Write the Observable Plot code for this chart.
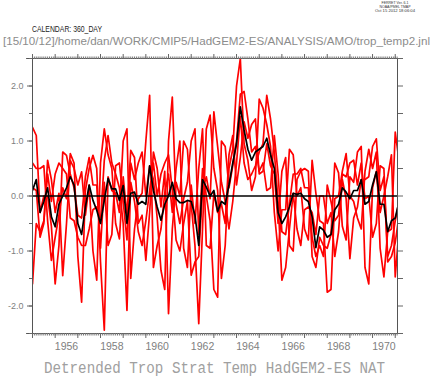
<!DOCTYPE html>
<html>
<head>
<meta charset="utf-8">
<script src="https://cdn.jsdelivr.net/npm/d3@7"></script>
<script src="https://cdn.jsdelivr.net/npm/@observablehq/plot@0.6"></script>
<style>
  html, body { margin: 0; padding: 0; background: #fff; }
  #chart { width: 435px; height: 377px; overflow: hidden; }
</style>
</head>
<body>
<div id="chart"></div>
<script>
// Time axis: values every 2 months starting Jan 1955 (360-day calendar)
const startYear = 1955.0;
const stepYears = 1 / 6;

// Four ensemble members (red) and their mean (black), detrended temperature anomaly
const memberA = [1.25, 1.1, -0.3, 0, 0, -0.55, -1.6, -0.9, 0.8, 0.74,
  0.4, 0.15, -0.35, -0.4, 0.35, 0.7, 0.2, 0.2, -0.95, 0.25,
  -0.9, -0.7, 0.55, 0.6, -0.1, -0.8, 0.6, 0.3, 0.6, 0.8,
  0, 0.55, 0.3, -0.4, -1.35, -1.7, 1.0, 1.8, -0.15, -0.5,
  -0.05, 0.25, 1.0, 1.22, -0.7, 0.5, 0, -0.45, -1.7, -1.84,
  1.0, 0.9, 0.15, 0.55, 1.0, 1.85, 1.9, 1.4, 0.8, 0.9,
  0.45, 0.6, 0.1, 0.15, 1.1, 0.4, -0.65, -0.7, -0.15, 0.4,
  0.4, 0.5, 0.15, 0.15, -0.75, -1.1, -0.9, -1.1, 0.2, -0.1,
  -0.45, -0.35, 0.4, 0.35, 0.6, 0.65, 0.2, 0.6, -0.05, 0,
  -0.75, -0.5, 0.55, 0.5, -1.1, -0.9, -0.45, -0.1];

const memberB = [0.6, 0.5, 0.5, 0.55, -0.45, -1.17, -0.75, -0.35, 0.15, -0.05,
  0.77, 0.6, -1.1, -1.93, 0.1, 0.5, 0.74, 0.5, -1.2, -2.44,
  0.35, 0.1, 0.05, -0.3, 1.0, 1.22, -1.5, -0.6, -0.05, 0.05,
  1.0, 1.83, -1.3, -0.9, -0.6, 0.05, 0.4, -0.3, 0.5, 1.0,
  -0.95, -1.3, 0.2, -0.5, 0.5, 1.22, -0.9, -0.95, 0.05, -0.3,
  -0.15, -0.5, 0.75, 1.1, 0.2, 0.7, 1.35, 1.05, 1.3, 1.4,
  0.4, 0.45, 0.95, 0.55, 0.4, -0.5, 0.45, 0.7, -0.9, -1.0,
  0.3, 0.45, 0.5, 0.45, -1.1, -1.3, -0.75, -0.9, -0.95, -0.7,
  0.6, 0.42, -0.55, -0.8, 0.35, 0.25, 0.8, 0.9, -1.3, -1.6,
  0.15, 0.45, -0.3, 0, 0.35, 0.75, -1.47, -0.6];

const memberC = [0.15, 0.1, -0.75, -0.5, 0.65, 0.3, -0.3, 0.05, -1.45, -0.5,
  0.65, 0.5, 0.2, 0.44, -0.35, 0.2, -1.0, -1.53, 0.6, 1.22,
  0.75, 0.5, -0.5, -0.78, 0.35, -0.35, 0.83, 0.7, -0.5, -0.35,
  -1.17, -0.3, 0.8, 0.5, -0.2, 0.45, -2.14, -0.6, 0.25, 0,
  1.0, 0.85, -0.15, -0.9, -2.32, -0.6, 1.22, 1.47, 0.5, 0.1,
  -1.5, -0.9, 0.5, 0.85, 2.0, 2.5, 0.95, 0.65, 0.1, 0.35,
  1.76, 1.6, 1.3, 0.9, -0.3, -1.0, -0.25, -0.25, 0.85, 0.75,
  0, 0.15, -0.6, -0.8, 0.65, 0.05, -0.45, -0.5, -1.75, -1.7,
  -0.05, 0, 0.45, 0.77, 0, -0.1, -0.4, -0.6, 0.45, 0.85,
  0.5, 0.8, -0.95, -1.47, -0.65, -0.6, 1.16, 0.64];

const memberD = [-1.6, -0.5, -0.65, -0.45, 0.4, -0.1, 0.4, 0.6, 0.5, 0.4,
  -0.4, -0.45, -0.75, -0.9, -0.9, -0.6, -0.25, -0.2, -0.45, 0.65,
  1.1, 0.6, 0.4, 0.15, -0.5, -2.08, 0.25, -0.1, -0.65, -0.9,
  -0.45, 0.1, 0.6, 0, 0.4, 0.6, 0.75, 0.1, -0.8, -1.0,
  -0.5, -0.1, -1.44, -1.2, -1.1, 0.1, 0.35, -0.05, 1.53, 0.9,
  0.25, -0.1, -0.6, -0.1, 0.6, 1.45, 0.6, 0.3, 0.4, 0.55,
  0.8, 0.95, 1.83, 1.4, 0.8, -0.1, -1.53, -1.3, -0.6, 0.05,
  -0.6, -0.9, -0.25, -0.2, -0.3, -0.7, 0, 0, -0.5, -0.3,
  -1.1, -0.65, 0.3, -0.05, -1.14, -0.4, -0.2, 0.3, 0.3, 0.35,
  0.9, 1.04, 0.1, 0.35, -1.2, -1.1, -0.85, -0.35];

const ensembleMean = [0.1, 0.3, -0.3, -0.1, 0.15, -0.38, -0.56, -0.15, 0, 0.15,
  0.35, 0.2, -0.5, -0.7, -0.2, 0.2, -0.08, -0.26, -0.5, -0.08,
  0.32, 0.13, 0.13, -0.08, 0.19, -0.5, 0.05, 0.07, -0.15, -0.1,
  -0.15, 0.55, 0.1, -0.2, -0.44, -0.15, 0, 0.25, -0.05, -0.12,
  -0.12, -0.08, -0.1, -0.35, -0.9, 0.3, 0.16, 0, 0.1, -0.28,
  -0.1, -0.15, 0.2, 0.6, 0.95, 1.62, 1.2, 0.85, 0.65, 0.8,
  0.85, 0.9, 1.05, 0.75, 0.5, -0.3, -0.5, -0.38, -0.2, 0.05,
  0.03, 0.05, -0.05, -0.1, -0.38, -0.94, -0.56, -0.62, -0.75, -0.7,
  -0.25, -0.15, 0.15, 0.07, -0.05, 0.1, 0.1, 0.3, -0.15, -0.1,
  0.2, 0.44, -0.15, -0.15, -0.65, -0.45, -0.4, -0.1];

// Axis ticks and labels
const yLabelTicks = [-2, -1, 0, 1, 2];
const yHalfTicks = [-2.5, -2, -1.5, -1, -0.5, 0, 0.5, 1, 1.5, 2, 2.5];
const xYearLabels = [1956, 1958, 1960, 1962, 1964, 1966, 1968, 1970];
const xYearBoundaries = [1955, 1956, 1957, 1958, 1959, 1960, 1961, 1962, 1963, 1964, 1965, 1966, 1967, 1968, 1969, 1970, 1971];
const xDomain = [1955.0, 1971.1];
const yDomain = [-2.5, 2.5];

const titleText = "Detrended Trop Strat Temp HadGEM2-ES NAT";
const calendarText = "CALENDAR: 360_DAY";
const pathText = "[15/10/12]/home/dan/WORK/CMIP5/HadGEM2-ES/ANALYSIS/AMO/trop_temp2.jnl";
const ferretLines = ["FERRET Ver. 6.1", "NOAA/PMEL TMAP", "Oct 15 2012 18:06:04"];

const toRows = arr => arr.map((v, i) => ({t: startYear + i * stepYears, v}));
const monthTicks = d3.range(0, 194).map(m => 1955 + m / 12);

const chart = Plot.plot({
  width: 435,
  height: 377,
  marginLeft: 32,
  marginRight: 38,
  marginTop: 58,
  marginBottom: 44,
  style: {background: "#fff", color: "#666", fontFamily: "Liberation Sans, Arial, sans-serif"},
  x: {domain: xDomain, label: null},
  y: {domain: yDomain, label: null},
  marks: [
    ...[memberA, memberB, memberC, memberD].map(s =>
      Plot.line(toRows(s), {x: "t", y: "v", stroke: "#ff0000", strokeWidth: 1.7, clip: true})),
    Plot.ruleY([0], {stroke: "#000", strokeWidth: 1.3}),
    Plot.line(toRows(ensembleMean), {x: "t", y: "v", stroke: "#000", strokeWidth: 1.7, clip: true}),
    Plot.frame({stroke: "#555"}),
    Plot.ruleY(yDomain, {x1: 1954.74, x2: xDomain[1], stroke: "#555"}),
    // left axis
    Plot.axisY(yHalfTicks, {anchor: "left", tickSize: 3, tickFormat: () => "", stroke: "#666", label: null}),
    Plot.axisY(yLabelTicks, {anchor: "left", tickSize: 5, tickPadding: 4, tickFormat: d => d.toFixed(1), fontSize: 9, fill: "#808080", stroke: "#666", label: null}),
    // right axis
    Plot.axisY(yHalfTicks, {anchor: "right", tickSize: 5, tickFormat: () => "", stroke: "#666", label: null}),
    // bottom axis
    Plot.axisX(monthTicks, {anchor: "bottom", tickSize: 2.5, tickFormat: () => "", stroke: "#777", label: null}),
    Plot.axisX(xYearBoundaries, {anchor: "bottom", tickSize: 5, tickFormat: () => "", stroke: "#666", label: null}),
    Plot.axisX(xYearLabels.map(y => y + 0.5), {anchor: "bottom", tickSize: 0, tickPadding: 9, tickFormat: d => String(Math.floor(d)), fontSize: 10.5, fill: "#808080", label: null}),
    // top axis
    Plot.axisX(monthTicks, {anchor: "top", tickSize: 2.5, tickFormat: () => "", stroke: "#777", label: null}),
    Plot.axisX(xYearBoundaries, {anchor: "top", tickSize: 5, tickFormat: () => "", stroke: "#666", label: null})
  ]
});

document.getElementById("chart").appendChild(chart);

const svg = d3.select(chart);
svg.append("text")
  .attr("x", 32).attr("y", 32.3)
  .attr("text-anchor", "start")
  .attr("font-family", "Liberation Sans, Arial, sans-serif")
  .attr("font-size", 8.5).attr("fill", "#222")
  .attr("textLength", 70).attr("lengthAdjust", "spacingAndGlyphs")
  .text(calendarText);
svg.append("text")
  .attr("x", 3).attr("y", 44.5)
  .attr("text-anchor", "start")
  .attr("font-family", "Liberation Sans, Arial, sans-serif")
  .attr("font-size", 11.5).attr("fill", "#8c8c8c")
  .attr("textLength", 427).attr("lengthAdjust", "spacingAndGlyphs")
  .text(pathText);
const ferretLens = [27, 31, 40];
ferretLines.forEach((s, i) => {
  svg.append("text")
    .attr("x", 395).attr("y", 4 + i * 4)
    .attr("text-anchor", "middle")
    .attr("font-family", "Liberation Sans, Arial, sans-serif")
    .attr("font-size", 4).attr("fill", "#333")
    .attr("textLength", ferretLens[i]).attr("lengthAdjust", "spacingAndGlyphs")
    .text(s);
});
svg.append("text")
  .attr("x", 44).attr("y", 373)
  .attr("text-anchor", "start")
  .attr("font-family", "Liberation Mono, Courier New, monospace")
  .attr("font-size", 16).attr("fill", "#a0a0a0")
  .attr("textLength", 341).attr("lengthAdjust", "spacingAndGlyphs")
  .text(titleText);
</script>
</body>
</html>
